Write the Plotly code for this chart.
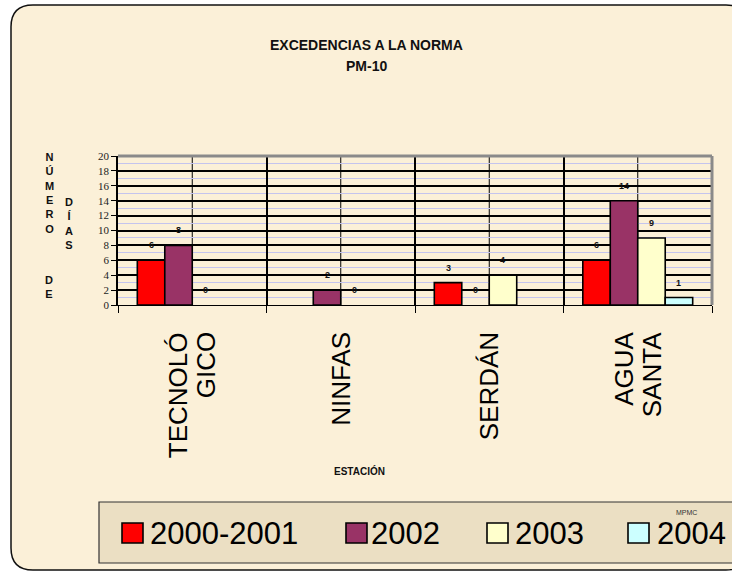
import plotly.graph_objects as go

# --- data -------------------------------------------------------------
stations = ["TECNOLÓGICO", "NINFAS", "SERDÁN", "AGUA SANTA"]
station_lines = [["TECNOLÓ", "GICO"], ["NINFAS"], ["SERDÁN"], ["AGUA", "SANTA"]]
series_names = ["2000-2001", "2002", "2003", "2004"]
v_2000_2001 = [6, None, 3, 6]
v_2002 = [8, 2, 0, 14]
v_2003 = [0, 0, 4, 9]
v_2004 = [None, None, None, 1]
series_values = [v_2000_2001, v_2002, v_2003, v_2004]
series_colors = ["#ff0000", "#993366", "#ffffcc", "#ccffff"]
y_ticks = list(range(0, 21, 2))

# --- geometry (pixels) ------------------------------------------------
W, H = 732, 573
L, R, T, B = 118, 712, 156, 305
BARGAP = 0.26


def px(x):
    return (x - L) / (R - L)


def py(y):
    return (B - y) / (B - T)


FONT = "Liberation Sans, Arial, sans-serif"
SERIF = "Liberation Serif, Times New Roman, serif"
PARCH = "#fbf0d8"

fig = go.Figure()
for name, vals, col in zip(series_names, series_values, series_colors):
    # zero-height bars get no outline so that only their label shows
    widths = [0 if v == 0 else 1.6 for v in vals]
    fig.add_trace(go.Bar(
        name=name, x=stations, y=vals,
        marker=dict(color=col, line=dict(color="black", width=widths)),
        showlegend=False,
    ))

shapes = []
annotations = []


def label(x, y, text, size, **kw):
    d = dict(xref="paper", yref="paper", x=px(x), y=py(y), text=text,
             showarrow=False, xanchor="center", yanchor="middle",
             font=dict(family=FONT, size=size, color="#111"))
    d.update(kw)
    annotations.append(d)


# rounded parchment background
x0, y0, x1, y1, r = 11, 5, 748, 570, 22
path = (f"M {px(x0)} {py(y0 + r)} "
        f"Q {px(x0)} {py(y0)} {px(x0 + r)} {py(y0)} "
        f"L {px(x1 - r)} {py(y0)} "
        f"Q {px(x1)} {py(y0)} {px(x1)} {py(y0 + r)} "
        f"L {px(x1)} {py(y1 - r)} "
        f"Q {px(x1)} {py(y1)} {px(x1 - r)} {py(y1)} "
        f"L {px(x0 + r)} {py(y1)} "
        f"Q {px(x0)} {py(y1)} {px(x0)} {py(y1 - r)} Z")
shapes.append(dict(type="path", xref="paper", yref="paper", path=path,
                   fillcolor=PARCH, line=dict(color="#111", width=1.5),
                   layer="below"))

# thin vertical lines through the middle of each station
for s in stations:
    shapes.append(dict(type="line", xref="x", yref="paper", x0=s, x1=s,
                       y0=0, y1=1, line=dict(color="black", width=1),
                       layer="below"))

# grey frame on top and right of the plot area
shapes.append(dict(type="line", xref="paper", yref="paper", x0=0, x1=1,
                   y0=1, y1=1, line=dict(color="#8a8a8a", width=3)))
shapes.append(dict(type="line", xref="paper", yref="paper", x0=1, x1=1,
                   y0=0, y1=1, line=dict(color="#8a8a8a", width=3)))

# legend box with swatches
shapes.append(dict(type="rect", xref="paper", yref="paper",
                   x0=px(99), x1=px(760), y0=py(502), y1=py(563),
                   fillcolor="#ebdfc3", line=dict(color="#333", width=1.2),
                   layer="below"))
swatch_x = [122, 346, 487, 628]
text_x = [148, 369, 513, 655]
for name, col, sx, tx in zip(series_names, series_colors, swatch_x, text_x):
    shapes.append(dict(type="rect", xref="paper", yref="paper",
                       x0=px(sx), x1=px(sx + 21), y0=py(523), y1=py(543),
                       fillcolor=col, line=dict(color="black", width=1.6)))
    label(tx, 533, name, 31, xanchor="left",
          font=dict(family=FONT, size=31, color="black"))
label(686, 512, "MPMC", 7, font=dict(family=FONT, size=7, color="#333"))

# value labels above each bar
group_w = (R - L) / len(stations)
bar_w = group_w * (1 - BARGAP) / len(series_names)
for i, vals in enumerate(series_values):
    off = (i - (len(series_names) - 1) / 2) * bar_w
    for s, v in zip(stations, vals):
        if v is None:
            continue
        annotations.append(dict(xref="x", yref="y", x=s, y=v, xshift=off,
                                yshift=15, text=f"<b>{v}</b>",
                                showarrow=False, xanchor="center",
                                yanchor="middle",
                                font=dict(family=FONT, size=9, color="#111")))

# station names, written bottom-to-top under each group
PITCH = 28
for s, lines in zip(stations, station_lines):
    n = len(lines)
    for k, ln in enumerate(lines):
        annotations.append(dict(xref="x", yref="paper", x=s, y=py(330),
                                xshift=(k - (n - 1) / 2) * PITCH,
                                text=ln, textangle=-90, showarrow=False,
                                xanchor="center", yanchor="top",
                                font=dict(family=FONT, size=26, color="black")))

# titles
label(366, 45, "<b>EXCEDENCIAS A LA NORMA</b>", 14)
label(366, 66, "<b>PM-10</b>", 14)
label(359, 471, "<b>ESTACIÓN</b>", 10)
# stacked vertical axis title
for txt, cx, cy in [("NÚMERO", 49, 193), ("DE", 49, 287), ("DÍAS", 69, 223)]:
    label(cx, cy, "<b>" + "<br>".join(txt) + "</b>", 11)

fig.update_layout(
    width=W, height=H,
    margin=dict(l=L, r=W - R, t=T, b=H - B, pad=0),
    paper_bgcolor="white", plot_bgcolor="rgba(0,0,0,0)",
    barmode="group", bargap=BARGAP, bargroupgap=0,
    shapes=shapes, annotations=annotations,
    xaxis=dict(
        showticklabels=False, tickson="boundaries", ticks="outside",
        ticklen=7, tickcolor="black", tickwidth=1,
        showgrid=True, gridcolor="black", gridwidth=2,
        showline=True, linecolor="black", linewidth=1,
        range=[-0.5, 3.5],
    ),
    yaxis=dict(
        range=[0, 20], tickvals=y_ticks, ticks="outside", ticklen=5,
        tickcolor="black", showline=True, linecolor="black", linewidth=1.5,
        showgrid=True, gridcolor="black", gridwidth=2, zeroline=False,
        tickfont=dict(family=SERIF, size=11, color="#222"),
        minor=dict(dtick=1, showgrid=True, gridcolor="#c4c4ee", gridwidth=1),
    ),
)

fig.write_html("out.html")
